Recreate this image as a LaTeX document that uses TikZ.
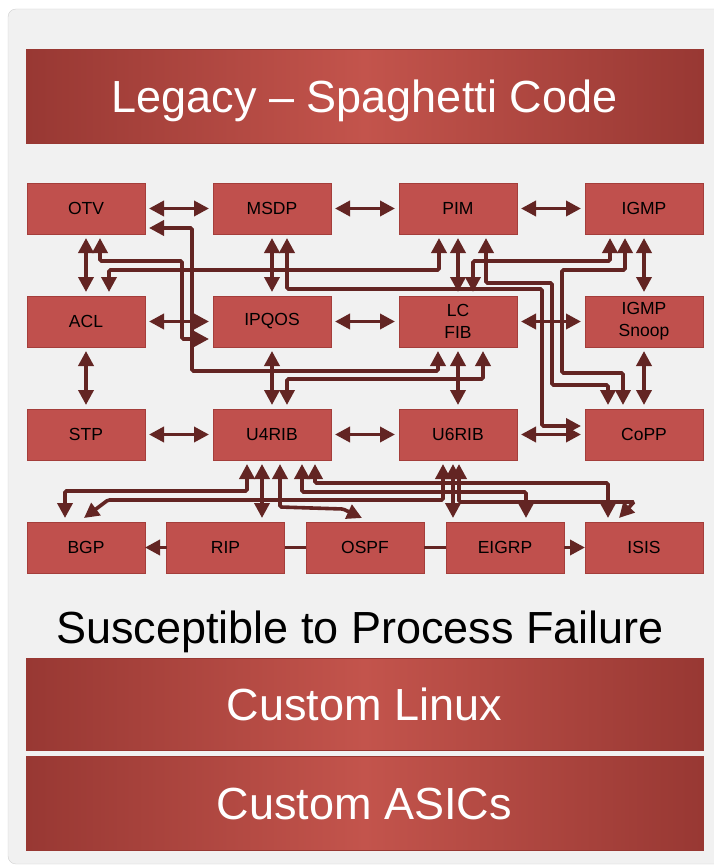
\documentclass[tikz,border=0pt]{standalone}
\usepackage{fontspec}
\setmainfont{Liberation Sans}
\usetikzlibrary{arrows.meta}

\definecolor{panelgray}{RGB}{241,241,241}
\definecolor{panelline}{RGB}{208,208,208}
\definecolor{boxred}{RGB}{192,80,77}
\definecolor{boxline}{RGB}{164,62,59}
\definecolor{wirered}{RGB}{99,37,35}
\definecolor{bannerdark}{RGB}{152,56,51}
\definecolor{bannerlight}{RGB}{195,84,76}

\begin{document}
\begin{tikzpicture}[x=1pt, y=-1pt,
  >={Triangle[length=15pt,width=15pt]},
  box/.style={rectangle, fill=boxred, draw=boxline, line width=0.8pt,
    minimum width=118pt, minimum height=51pt, inner sep=0pt,
    outer sep=4pt, align=center, font=\fontsize{17.5}{22}\selectfont},
  banner/.style={rectangle, left color=bannerdark, right color=bannerdark,
    middle color=bannerlight, draw=bannerdark, line width=1pt,
    minimum width=677pt, text=white, text height=32pt, text depth=0pt,
    font=\fontsize{45}{54}\selectfont},
  wire/.style={draw=wirered, line width=3.6pt, rounded corners=1.5pt},
  touching/.style={shorten <=-4pt, shorten >=-4pt}]

  \useasboundingbox (0,0) rectangle (713,867);

  %% The grey panel behind everything.
  \draw[fill=panelgray, draw=panelline, rounded corners=8pt]
  (8,9) rectangle (740,864);

  %% Title banner.
  \node[banner, minimum height=93pt] (legacy) at (364.5,96.5)
  {Legacy – Spaghetti Code};

  %% The process boxes, row by row:
  \node[box] (otv)   at (86,208.5)  {OTV};
  \node[box] (msdp)  at (272,208.5) {MSDP};
  \node[box] (pim)   at (458,208.5) {PIM};
  \node[box] (igmp)  at (644,208.5) {IGMP};

  \node[box] (acl)   at (86,321.5)  {ACL};
  \node[box] (ipqos) at (272,321.5) {IPQOS};
  \node[box] (lcfib) at (458,321.5) {LC\\FIB};
  \node[box] (snoop) at (644,321.5) {IGMP\\Snoop};

  \node[box] (stp)   at (86,434.5)  {STP};
  \node[box] (u4rib) at (272,434.5) {U4RIB};
  \node[box] (u6rib) at (458,434.5) {U6RIB};
  \node[box] (copp)  at (644,434.5) {CoPP};

  \node[box] (bgp)   at (86,547.5)    {BGP};
  \node[box] (rip)   at (225.5,547.5) {RIP};
  \node[box] (ospf)  at (365,547.5)   {OSPF};
  \node[box] (eigrp) at (505,547.5)   {EIGRP};
  \node[box] (isis)  at (644,547.5)   {ISIS};

  %% Neighbours in a row:
  \draw[wire,<->] (otv) -- (msdp);
  \draw[wire,<->] (msdp) -- (pim);
  \draw[wire,<->] (pim) -- (igmp);
  \draw[wire,<->] (acl) -- (ipqos);
  \draw[wire,<->] (ipqos) -- (lcfib);
  \draw[wire,<->] (lcfib) -- (snoop);
  \draw[wire,<->] (stp) -- (u4rib);
  \draw[wire,<->] (u4rib) -- (u6rib);
  \draw[wire,<->] (u6rib) -- (copp);

  %% Neighbours in a column:
  \draw[wire,<->] (otv) -- (acl);
  \draw[wire,<->] (acl) -- (stp);
  \draw[wire,<->] (msdp) -- (ipqos);
  \draw[wire,<->] (ipqos) -- (u4rib);
  \draw[wire,<->] (pim) -- (lcfib);
  \draw[wire,<->] (lcfib) -- (u6rib);
  \draw[wire,<->] (igmp) -- (snoop);
  \draw[wire,<->] (snoop) -- (copp);

  %% The long ways round:
  \draw[wire,<->] (otv.east |- 0,228) -| (192,371)
  -| (lcfib.south -| 438,0);
  \draw[wire,<->] (otv.south -| 100,0) |- (182,261)
  |- (ipqos.west |- 0,339);
  \draw[wire,<->] (acl.north -| 109,0) -- (109,270)
  -| (pim.south -| 439,0);
  \draw[wire,<->] (msdp.south -| 287,0) -- (287,289) -| (542,426)
  -- (copp.west |- 0,426);
  \draw[wire,<->] (pim.south -| 486,0) -- (486,283) -| (552,385)
  -| (copp.north -| 608,0);
  \draw[wire,<->] (igmp.south -| 610,0) -- (610,261)
  -| (lcfib.north -| 473,0);
  \draw[wire,<->] (igmp.south -| 625,0) -- (625,270) -| (562,373)
  -| (copp.north -| 623,0);
  \draw[wire,<->] (u4rib.north -| 287,0) -- (287,379)
  -| (lcfib.south -| 483,0);

  %% Down to the routing protocols:
  \draw[wire,<->] (u4rib.south -| 247,0) -- (247,491)
  -| (bgp.north -| 65,0);
  \draw[wire,<->] (u4rib.south -| 262,0) -- (rip.north -| 262,0);
  \draw[wire,<->] (u4rib.south -| 280,0) -- (280,507) -- (343,509)
  -- (ospf.north -| 362,0);
  \draw[wire,<->] (u4rib.south -| 302,0) -- (302,492)
  -| (eigrp.north -| 526,0);
  \draw[wire,<->] (u4rib.south -| 315,0) -- (315,483)
  -| (isis.north -| 608,0);
  \draw[wire,<->] (u6rib.south -| 443,0) -- (443,500) -- (108,500)
  -- (bgp.north -| 84,0);
  \draw[wire,<->] (u6rib.south -| 453,0) -- (eigrp.north -| 453,0);
  \draw[wire,<->] (u6rib.south -| 459,0) -- (459,502) -- (634,502)
  -- (isis.north -| 619,0);

  %% Along the bottom row:
  \draw[wire,->,touching] (rip) -- (bgp);
  \draw[wire,touching] (rip) -- (ospf);
  \draw[wire,touching] (ospf) -- (eigrp);
  \draw[wire,->,touching] (eigrp) -- (isis);

  %% Below the boxes.
  \node[font=\fontsize{45}{54}\selectfont, text height=32pt,
  text depth=0pt] (failure) at (360,627)
  {Susceptible to Process Failure};
  \node[banner, minimum height=92pt] (linux) at (364.5,704)
  {Custom Linux};
  \node[banner, minimum height=94pt] (asics) at (364.5,803)
  {Custom ASICs};

\end{tikzpicture}
\end{document}
